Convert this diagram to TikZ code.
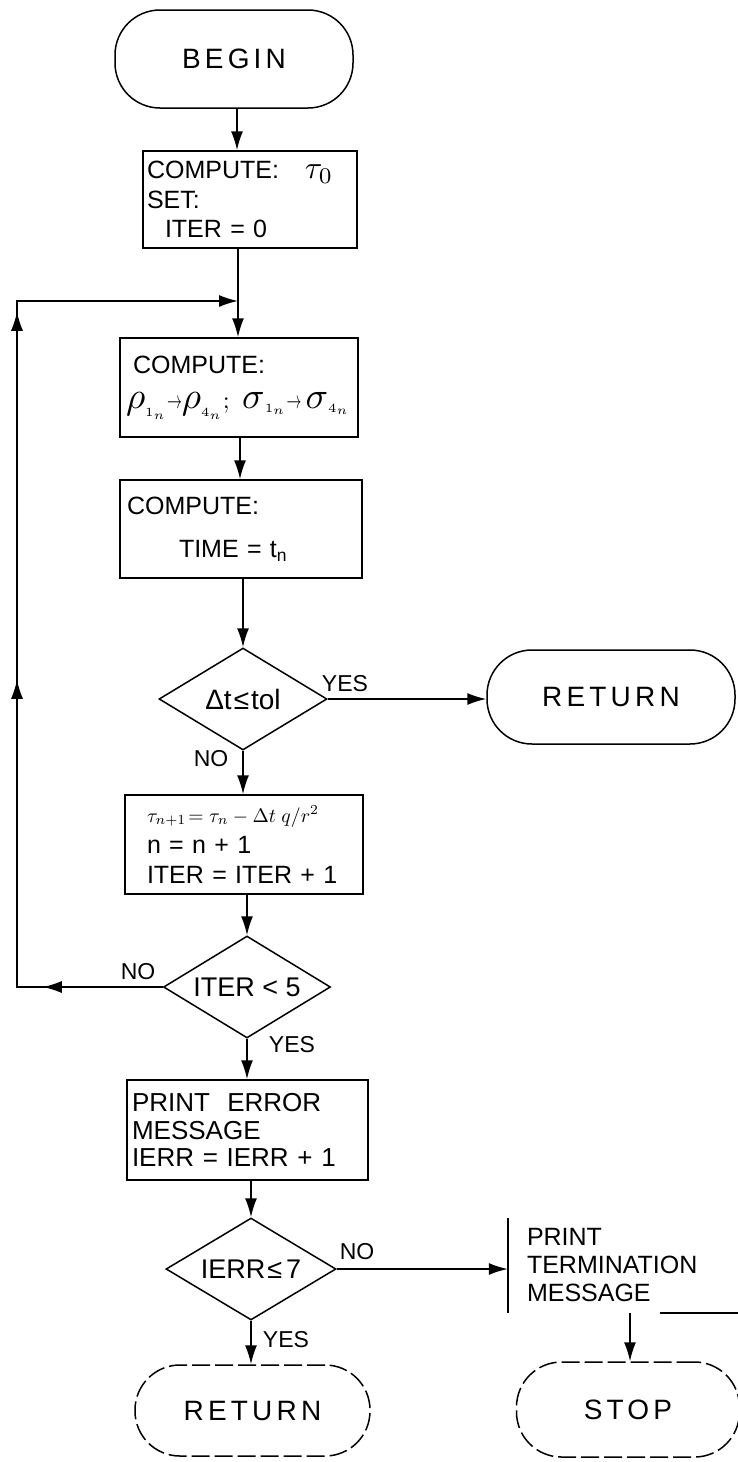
\documentclass[tikz,border=0pt]{standalone}
\usepackage{graphicx}
\usepackage[no-math]{fontspec}
\setmainfont{Liberation Sans}
\newfontfamily\spacedfont[LetterSpace=15]{Liberation Sans}
\usetikzlibrary{arrows.meta,shapes.geometric,decorations.markings}
\newcommand\bxf{\fontsize{25}{29.5}\selectfont}
\newcommand\spf{\spacedfont\fontsize{28}{28}\selectfont}
\newcommand\sarr{\mathord{\scalebox{0.6}[1]{$\rightarrow$}}}
\newcommand\gl[1]{\mathord{\scalebox{1.5}{$#1$}}}
\tikzset{
  every node/.style={inner sep=0pt},
  line/.style={line width=1.5pt},
  arr/.style={line, -{Latex[length=19pt,width=12pt]}},
  termnode/.style={draw, line width=1.5pt, rounded corners=45pt, font=\spf},
  fadednode/.style={termnode, dash pattern=on 18pt off 5pt},
  procbox/.style={draw, line width=1.5pt, align=left, font=\bxf},
  dia/.style={draw, diamond, shape aspect=1.65, line width=1.5pt, font=\fontsize{27}{27}\selectfont},
  lab/.style={font=\fontsize{23}{23}\selectfont},
}
\begin{document}
\begin{tikzpicture}[x=1pt,y=-1pt]
\useasboundingbox (0,0) rectangle (738,1462);

% nodes
\node[termnode, minimum width=238pt, minimum height=98pt] (begin) at (234,59) {BEGIN};

\node[procbox, text width=206pt, inner xsep=4pt, minimum height=97pt] (b1) at (250,199.5)
  {COMPUTE:\hspace{26pt}\scalebox{3.2}{\normalsize$\tau_0$}\\SET:\\\hspace{18pt}ITER = 0};

\node[procbox, text width=226pt, inner xsep=6pt, minimum height=99pt] (b2) at (239,387.5)
  {\hspace{7pt}COMPUTE:\\[6pt]\resizebox{224pt}{!}{\normalsize$\gl\rho_{\scriptscriptstyle 1_n}\sarr\gl\rho_{\scriptscriptstyle 4_n};\,\,\gl\sigma_{\scriptscriptstyle 1_n}\sarr\,\gl\sigma_{\scriptscriptstyle 4_n}$}};

\node[procbox, text width=228pt, inner xsep=7pt, minimum height=98pt] (b3) at (241,529)
  {COMPUTE:\\[14pt]\hspace{52pt}TIME = t\textsubscript{n}};

\node[dia, minimum width=168pt, minimum height=102pt, font=\fontsize{28}{28}\selectfont] (d1) at (243,699) {Δt\hspace{2pt}≤\hspace{2pt}tol};

\node[termnode, minimum width=248pt, minimum height=94pt] (ret1) at (611,697) {RETURN};

\node[procbox, text width=194pt, inner xsep=22pt, minimum height=99pt] (b4) at (244,844.5)
  {\resizebox{172pt}{!}{\normalsize$\tau_{n+1}\!=\tau_n-\Delta t\;q/r^2$}\\[2pt]n = n + 1\\ITER = ITER + 1};

\node[dia, minimum width=167pt, minimum height=102pt] (d2) at (247,987) {ITER < 5};

\node[procbox, text width=231pt, inner xsep=5pt, minimum height=100pt, font=\fontsize{26}{27.5}\selectfont] (b5) at (247.5,1130)
  {PRINT\ \ ERROR\\MESSAGE\\IERR = IERR + 1};

\node[dia, minimum width=170pt, minimum height=102pt] (d3) at (251,1269) {IERR\hspace{2pt}≤\hspace{4pt}7};

\node[align=left, text width=224pt, inner xsep=19pt, minimum height=95pt, font=\fontsize{25}{28}\selectfont] (term) at (639,1265.5)
  {PRINT\\TERMINATION\\MESSAGE};
\draw[line] (term.north west) -- (term.south west);
\draw[line] ([xshift=152pt]term.south west) -- ([xshift=232pt]term.south west);

\node[fadednode, minimum width=235pt, minimum height=91pt] (ret2) at (252.5,1410.5) {RETURN};
\node[fadednode, minimum width=223pt, minimum height=95pt] (stop) at (628,1409.5) {STOP};

% labels
\node[lab] (y1) at (345,684) {YES};
\node[lab] (n1) at (211,759) {NO};
\node[lab] (n2) at (138,972) {NO};
\node[lab] (y2) at (292,1045) {YES};
\node[lab] (n3) at (357,1252) {NO};
\node[lab] (y3) at (286,1340) {YES};

% coordinates
\coordinate (c1) at (237,0);
\coordinate (j) at (238,301);
\coordinate (c3) at (240,0);
\coordinate (c4) at (630,0);
\coordinate (lpb) at (17,987);
\coordinate (lpt) at (17,301);

% connectors
\draw[arr] (begin.south -| c1) -- (b1.north -| c1);
\draw[arr] (b1.south -| j) -- (b2.north -| j);
\draw[arr] (b2.south -| c3) -- (b3.north -| c3);
\draw[arr] (b3.south -| d1.north) -- (d1.north);
\draw[arr] (d1.east) -- (d1.east -| ret1.west);
\draw[arr] (d1.south) -- (b4.north -| d1.south);
\draw[arr] (b4.south -| d2.north) -- (d2.north);
\draw[arr] (d2.south) -- (b5.north -| d2.south);
\draw[arr] (b5.south -| d3.north) -- (d3.north);
\draw[arr] (d3.south) -- (ret2.north -| d3.south);
\draw[arr] (d3.east) -- (d3.east -| term.west);
\draw[arr] (term.south -| c4) -- (stop.north -| c4);

\draw[arr, postaction={decorate}, decoration={markings,
    mark=at position 120pt with {\arrow{Latex[length=19pt,width=12pt]}},
    mark=at position 453pt with {\arrow{Latex[length=19pt,width=12pt]}},
    mark=at position 821pt with {\arrow{Latex[length=19pt,width=12pt]}}}]
  (d2.west) -- (lpb) -- (lpt) -- (j);
\end{tikzpicture}
\end{document}
